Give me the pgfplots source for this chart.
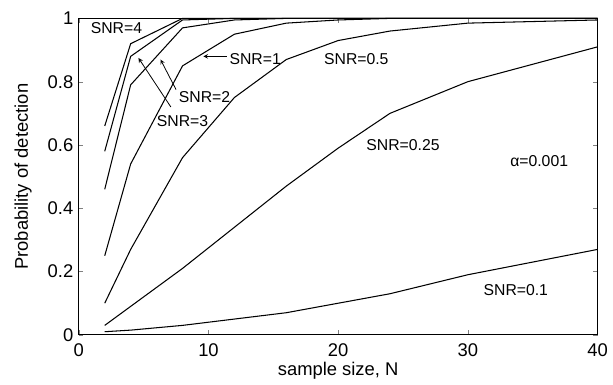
\documentclass[border=0pt]{standalone}
\usepackage{pgfplots}
\pgfplotsset{compat=1.18}
\usepackage{fontspec}
\setmainfont{Liberation Sans}
\begin{document}
\fontsize{12}{14}\selectfont
\begin{tikzpicture}
\begin{axis}[
  scale only axis, width=395pt, height=241pt,
  xmin=0, xmax=40, ymin=0, ymax=1,
  xtick={0,10,20,30,40}, ytick={0,0.2,0.4,0.6,0.8,1},
  yticklabels={0,0.2,0.4,0.6,0.8,1},
  tick align=inside, major tick length=3.5pt,
  /pgf/number format/assume math mode=true,
  tick label style={font=\fontsize{14}{16}\selectfont},
  xlabel={sample size, N}, ylabel={Probability of detection},
  every axis x label/.style={at={(axis description cs:0.5,0)}, anchor=center, yshift=-27pt, font=\fontsize{14}{16}\selectfont},
  ylabel style={yshift=4pt, font=\fontsize{14}{16}\selectfont},
  xticklabel style={yshift=-2.5pt},
  axis line style={line width=0.8pt},
  clip=false,
]
\path (rel axis cs:0,0) ++(-60pt,-37.5pt) coordinate (bbA);
\path (rel axis cs:1,1) ++(6pt,14pt) coordinate (bbB);
\path (bbA) rectangle (bbB);
\addplot[black, line width=0.8pt] coordinates {(2,0.66)(4,0.92)(8,1.0)(40,1.0)};
\addplot[black, line width=0.8pt] coordinates {(2,0.58)(4,0.88)(8,0.995)(12,1.0)(40,1.0)};
\addplot[black, line width=0.8pt] coordinates {(2,0.46)(4,0.79)(8,0.97)(12,0.995)(16,1.0)(40,1.0)};
\addplot[black, line width=0.8pt] coordinates {(2,0.25)(4,0.54)(8,0.85)(12,0.95)(16,0.985)(20,0.995)(24,1.0)(40,1.0)};
\addplot[black, line width=0.8pt] coordinates {(2,0.10)(4,0.27)(8,0.56)(12,0.75)(16,0.87)(20,0.93)(24,0.96)(30,0.985)(40,0.995)};
\addplot[black, line width=0.8pt] coordinates {(2,0.03)(4,0.09)(8,0.21)(12,0.34)(16,0.47)(20,0.59)(24,0.70)(30,0.80)(40,0.91)};
\addplot[black, line width=0.8pt] coordinates {(2,0.01)(4,0.015)(8,0.03)(12,0.05)(16,0.07)(20,0.10)(24,0.13)(30,0.19)(40,0.27)};
\node at (axis cs:2.9,0.97) {SNR=4};
\node at (axis cs:13.6,0.87) {SNR=1};
\draw[-stealth, line width=0.6pt] (axis cs:11.4,0.88) -- (axis cs:9.6,0.88);
\node at (axis cs:9.7,0.75) {SNR=2};
\draw[-stealth, line width=0.6pt] (axis cs:7.5,0.775) -- (axis cs:6.3,0.87);
\node at (axis cs:8.0,0.675) {SNR=3};
\draw[-stealth, line width=0.6pt] (axis cs:7.1,0.72) -- (axis cs:4.6,0.875);
\node at (axis cs:21.4,0.87) {SNR=0.5};
\node at (axis cs:25,0.60) {SNR=0.25};
\node at (axis cs:35.5,0.55) {α=0.001};
\node at (axis cs:33.7,0.14) {SNR=0.1};
\end{axis}
\end{tikzpicture}
\end{document}
